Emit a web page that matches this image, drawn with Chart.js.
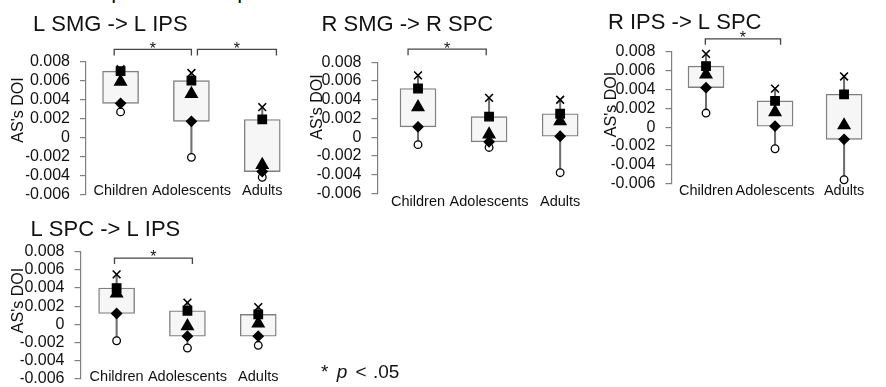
<!DOCTYPE html>
<html>
<head>
<meta charset="utf-8">
<script src="https://cdn.jsdelivr.net/npm/chart.js@4.4.1/dist/chart.umd.min.js"></script>
<style>
  body { margin: 0; background: #fff; font-family: "Liberation Sans", Arial, sans-serif; }
  #wrap { position: relative; width: 886px; height: 387px; overflow: hidden; }
  #wrap canvas { position: absolute; left: 0; top: 0; }
  .head { position: absolute; left: 13px; top: -20px; font-size: 22px; line-height: 22px; color: #111; white-space: nowrap; }
  .head b { margin-right: 14px; }
  .note { position: absolute; left: 321px; top: 361px; font-size: 19px; line-height: 22px; color: #111; white-space: nowrap; word-spacing: 1px; }
  .note i { margin: 0 2px; }
</style>
</head>
<body>
<div id="wrap">
  <div class="head"><b>B</b>Developmental comparisons</div>
  <canvas id="p1" width="886" height="387"></canvas>
  <canvas id="p2" width="886" height="387"></canvas>
  <canvas id="p3" width="886" height="387"></canvas>
  <canvas id="p4" width="886" height="387"></canvas>
  <div class="note">* <i>p</i> &lt; .05</div>
</div>
<script>
const CATEGORIES = ["Children", "Adolescents", "Adults"];
const Y_TICKS = [0.008, 0.006, 0.004, 0.002, 0, -0.002, -0.004, -0.006];
const Y_TICK_LABELS = ["0.008", "0.006", "0.004", "0.002", "0", "-0.002", "-0.004", "-0.006"];
const Y_TITLE = "AS's DOI";
const TITLES = ["L SMG -> L IPS", "R SMG -> R SPC", "R IPS -> L SPC", "L SPC -> L IPS"];

// per panel markers: cross (top), square (box top), triangle, diamond (box bottom), circle (bottom)
const P1_CROSS = [0.0072, 0.0068, 0.0032];
const P1_SQUARE = [0.0070, 0.0060, 0.0019];
const P1_TRIANGLE = [0.0059, 0.0046, -0.0029];
const P1_DIAMOND = [0.0036, 0.0017, -0.0036];
const P1_CIRCLE = [0.0027, -0.0021, -0.0042];

const P2_CROSS = [0.0066, 0.0042, 0.0040];
const P2_SQUARE = [0.0052, 0.0022, 0.0025];
const P2_TRIANGLE = [0.0032, 0.0003, 0.0017];
const P2_DIAMOND = [0.0011, -0.0005, 0.0001];
const P2_CIRCLE = [-0.0008, -0.0011, -0.0038];

const P3_CROSS = [0.0078, 0.0041, 0.0054];
const P3_SQUARE = [0.0065, 0.0028, 0.0035];
const P3_TRIANGLE = [0.0056, 0.0016, 0.0002];
const P3_DIAMOND = [0.0042, 0.0001, -0.0013];
const P3_CIRCLE = [0.0015, -0.0023, -0.0056];

const P4_CROSS = [0.0055, 0.0024, 0.0019];
const P4_SQUARE = [0.0040, 0.0015, 0.0011];
const P4_TRIANGLE = [0.0034, -0.0002, 0.0001];
const P4_DIAMOND = [0.0012, -0.0013, -0.0013];
const P4_CIRCLE = [-0.0018, -0.0026, -0.0023];

// significance brackets, [from, to] in category units, and their height
const P1_BRACKETS = [[-0.09, 1.0], [1.085, 2.2]];
const P2_BRACKETS = [[-0.14, 0.96]];
const P3_BRACKETS = [[-0.01, 1.08]];
const P4_BRACKETS = [[-0.03, 1.07]];
const BRACKET_LEVELS = [0.0093, 0.0094, 0.0094, 0.0073];

const FONT = '"Liberation Sans", Arial, sans-serif';
const Y_AXIS_W = 60;
const PAGE_W = 886;
const PAGE_H = 387;

// x labels hang off the -0.006 line; labelPad < 0 lifts them over the plot bottom
const LAYOUT = [
  { axisX: 86, right: 292, top: 61.7, bottom: 194.3, xMin: -0.488, xMax: 2.42, labelPad: -12,
    titleX: 33, titleY: 30.7, yTitleX: 19, yTitleY: 110 },
  { axisX: 377.5, right: 590, top: 62.3, bottom: 193.3, xMin: -0.57, xMax: 2.42, labelPad: 0,
    titleX: 321.5, titleY: 30.7, yTitleX: 318, yTitleY: 107 },
  { axisX: 671.5, right: 885, top: 52, bottom: 183.5, xMin: -0.5, xMax: 2.49, labelPad: -1.2,
    titleX: 608, titleY: 28.5, yTitleX: 612, yTitleY: 104.5 },
  { axisX: 80.5, right: 288, top: 251.7, bottom: 383.5, xMin: -0.51, xMax: 2.42, labelPad: -10.8,
    titleX: 30.5, titleY: 235.7, yTitleX: 19, yTitleY: 300.5 },
];

const PANELS = [
  { cross: P1_CROSS, square: P1_SQUARE, triangle: P1_TRIANGLE, diamond: P1_DIAMOND, circle: P1_CIRCLE, brackets: P1_BRACKETS },
  { cross: P2_CROSS, square: P2_SQUARE, triangle: P2_TRIANGLE, diamond: P2_DIAMOND, circle: P2_CIRCLE, brackets: P2_BRACKETS },
  { cross: P3_CROSS, square: P3_SQUARE, triangle: P3_TRIANGLE, diamond: P3_DIAMOND, circle: P3_CIRCLE, brackets: P3_BRACKETS },
  { cross: P4_CROSS, square: P4_SQUARE, triangle: P4_TRIANGLE, diamond: P4_DIAMOND, circle: P4_CIRCLE, brackets: P4_BRACKETS },
];

const toPoints = (values) => values.map((v, i) => ({ x: i, y: v }));

const panelNotes = {
  id: "panelNotes",
  afterDraw(chart, _args, opts) {
    const { ctx, scales } = chart;
    ctx.save();
    ctx.fillStyle = "#111";

    ctx.font = `22px ${FONT}`;
    ctx.textAlign = "left";
    ctx.textBaseline = "alphabetic";
    ctx.fillText(opts.title, opts.titleX, opts.titleY);

    ctx.save();
    ctx.translate(opts.yTitleX, opts.yTitleY);
    ctx.rotate(-Math.PI / 2);
    ctx.font = `16px ${FONT}`;
    ctx.textAlign = "center";
    ctx.textBaseline = "middle";
    ctx.fillText(Y_TITLE, 0, 0);
    ctx.restore();

    const y0 = scales.y.getPixelForValue(opts.bracketLevel);
    ctx.strokeStyle = "#444";
    ctx.lineWidth = 1.3;
    ctx.font = `16px ${FONT}`;
    ctx.textAlign = "center";
    ctx.textBaseline = "middle";
    opts.brackets.forEach(([from, to]) => {
      const x1 = scales.x.getPixelForValue(from);
      const x2 = scales.x.getPixelForValue(to);
      ctx.beginPath();
      ctx.moveTo(x1, y0 + 6);
      ctx.lineTo(x1, y0);
      ctx.lineTo(x2, y0);
      ctx.lineTo(x2, y0 + 6);
      ctx.stroke();
      ctx.fillText("*", (x1 + x2) / 2, y0);
    });
    ctx.restore();
  },
};

const markerSet = (data, style, radius, fill, order) => ({
  type: "line",
  data: toPoints(data),
  showLine: false,
  pointStyle: style,
  pointRadius: radius,
  pointBackgroundColor: fill,
  pointBorderColor: "#000",
  pointBorderWidth: style === "crossRot" ? 1.6 : 1.3,
  order,
  clip: false,
});

const buildPanel = (canvasId, panel, layout, title, bracketLevel) => {
  const boxes = panel.diamond.map((lo, i) => ({ x: i, y: [lo, panel.square[i]] }));
  const upper = panel.square.map((v, i) => ({ x: i, y: [v, panel.cross[i]] }));
  const lower = panel.circle.map((v, i) => ({ x: i, y: [v, panel.diamond[i]] }));
  const whisker = (data) => ({
    type: "bar",
    data,
    grouped: false,
    barThickness: 1.4,
    backgroundColor: "#6f6f6f",
    borderWidth: 0,
    order: 8,
    clip: false,
  });

  return new Chart(document.getElementById(canvasId), {
    type: "bar",
    data: {
      datasets: [
        markerSet(panel.square, "rect", 6, "#000", 1),
        markerSet(panel.triangle, "triangle", 6.8, "#000", 2),
        markerSet(panel.diamond, "rectRot", 5, "#000", 3),
        markerSet(panel.cross, "crossRot", 5.5, "#000", 4),
        markerSet(panel.circle, "circle", 3.8, "#fff", 5),
        {
          type: "bar",
          data: boxes,
          grouped: false,
          barThickness: 36,
          backgroundColor: "#f6f6f6",
          borderColor: "#808080",
          borderWidth: 1.4,
          borderSkipped: false,
          order: 6,
          clip: false,
        },
        whisker(upper),
        whisker(lower),
      ],
    },
    options: {
      responsive: false,
      devicePixelRatio: 1,
      animation: false,
      events: [],
      layout: {
        padding: {
          left: layout.axisX - Y_AXIS_W,
          right: PAGE_W - layout.right,
          top: layout.top,
          bottom: PAGE_H - layout.bottom,
        },
      },
      plugins: {
        legend: { display: false },
        tooltip: { enabled: false },
        panelNotes: {
          title,
          titleX: layout.titleX,
          titleY: layout.titleY,
          yTitleX: layout.yTitleX,
          yTitleY: layout.yTitleY,
          brackets: panel.brackets,
          bracketLevel,
        },
      },
      scales: {
        x: {
          type: "linear",
          position: { y: -0.006 },
          offset: false,
          min: layout.xMin,
          max: layout.xMax,
          afterBuildTicks(scale) {
            scale.ticks = CATEGORIES.map((_, i) => ({ value: i }));
          },
          afterFit(scale) {
            scale.paddingLeft = 0;
            scale.paddingRight = 0;
          },
          grid: { display: false, drawTicks: false, offset: false },
          border: { display: false },
          ticks: {
            autoSkip: false,
            maxRotation: 0,
            minRotation: 0,
            padding: layout.labelPad,
            color: "#111",
            font: { size: 14.5, family: FONT },
            callback: (value) => CATEGORIES[value] ?? "",
          },
        },
        y: {
          type: "linear",
          min: -0.006,
          max: 0.008,
          afterBuildTicks(scale) {
            scale.ticks = Y_TICKS.map((v) => ({ value: v }));
          },
          afterFit(scale) {
            scale.width = Y_AXIS_W;
            scale.paddingTop = 0;
            scale.paddingBottom = 0;
          },
          grid: {
            drawOnChartArea: false,
            drawTicks: true,
            tickLength: 6,
            color: "#808080",
            lineWidth: 1.2,
          },
          border: { display: true, color: "#808080", width: 1.2 },
          ticks: {
            autoSkip: false,
            padding: 10,
            color: "#111",
            font: { size: 16, family: FONT },
            callback: (value) => Y_TICK_LABELS[Y_TICKS.indexOf(value)] ?? "",
          },
        },
      },
    },
    plugins: [panelNotes],
  });
};

PANELS.forEach((panel, i) => {
  buildPanel(`p${i + 1}`, panel, LAYOUT[i], TITLES[i], BRACKET_LEVELS[i]);
});
</script>
</body>
</html>
